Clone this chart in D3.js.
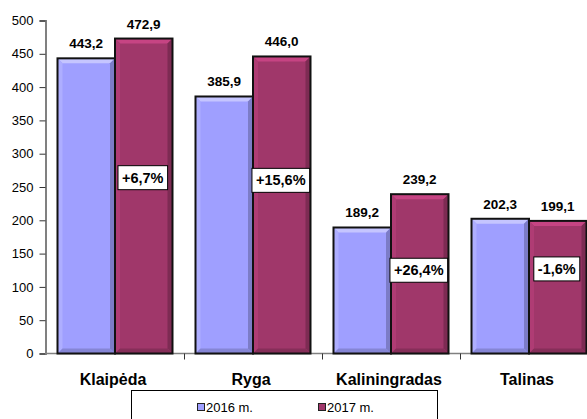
<!DOCTYPE html>
<html>
<head>
<meta charset="utf-8">
<script src="https://cdn.jsdelivr.net/npm/d3@7"></script>
<style>
  body { margin: 0; background: #fff; }
  svg { display: block; font-family: Arial, "Liberation Sans", sans-serif; }
</style>
</head>
<body>
<div id="grafikas"></div>
<script>
// duomenys
const uostai = ["Klaipėda", "Ryga", "Kaliningradas", "Talinas"];
const metai = ["2016 m.", "2017 m."];
const reiksmes2016 = [443.2, 385.9, 189.2, 202.3];
const reiksmes2017 = [472.9, 446.0, 239.2, 199.1];
const pokyciai = ["+6,7%", "+15,6%", "+26,4%", "-1,6%"];
const pokyciuAukstis = [264, 260, 125, 127]; // kur stovi procentu dezutes (reiksmes vienetais)
const yTicks = [0, 50, 100, 150, 200, 250, 300, 350, 400, 450, 500];

const W = 587, H = 419;
const spalvos = ["#9f9fff", "#a0376a"];

const svg = d3.select("#grafikas").append("svg")
  .attr("width", W).attr("height", H);

const x0 = d3.scaleBand().domain(uostai).range([46, 598]).padding(0);
const x1 = d3.scaleBand().domain(metai).range([11.5, x0.bandwidth() - 11.5]).padding(0);
const y = d3.scaleLinear().domain([0, 500]).range([353.5, 20.5]);

const fmt = v => v.toFixed(1).replace(".", ",");

// ašys
const yAxis = svg.append("g")
  .attr("transform", "translate(45.5,0)")
  .call(d3.axisLeft(y).tickValues(yTicks).tickSize(6).tickPadding(6));
yAxis.select(".domain").attr("stroke", "#808080").attr("stroke-width", 2);
yAxis.selectAll(".tick line").attr("stroke", "#333");
yAxis.selectAll("text").style("font-size", "13px").attr("fill", "#000");

const xAxis = svg.append("g")
  .attr("transform", `translate(0,${y(0)})`);
xAxis.append("line")
  .attr("x1", 45).attr("x2", W).attr("stroke", "#808080").attr("stroke-width", 1.5);
xAxis.selectAll(".tk")
  .data(uostai.slice(1))
  .enter().append("line")
  .attr("x1", d => x0(d) + 0.5).attr("x2", d => x0(d) + 0.5)
  .attr("y1", 0).attr("y2", 6).attr("stroke", "#333");
xAxis.selectAll(".cat")
  .data(uostai)
  .enter().append("text")
  .attr("x", d => x0(d) + x0.bandwidth() / 2 - 2)
  .attr("y", 31)
  .attr("text-anchor", "middle")
  .style("font-size", "16px")
  .style("font-weight", "bold")
  .text(d => d);

// stulpeliai su reljefu
function stulpelis(g, x, yTop, w, h, spalva) {
  const b = 5;
  const c = d3.color(spalva);
  g.append("rect").attr("x", x).attr("y", yTop).attr("width", w).attr("height", h).attr("fill", spalva);
  const pts = (arr) => arr.map(p => p.join(",")).join(" ");
  // virsus
  g.append("polygon").attr("points", pts([[x, yTop], [x + w, yTop], [x + w - b, yTop + b], [x + b, yTop + b]]))
    .attr("fill", c.brighter(0.6));
  // kaire
  g.append("polygon").attr("points", pts([[x, yTop], [x + b, yTop + b], [x + b, yTop + h - b], [x, yTop + h]]))
    .attr("fill", c.brighter(0.25));
  // desine
  g.append("polygon").attr("points", pts([[x + w, yTop], [x + w - b, yTop + b], [x + w - b, yTop + h - b], [x + w, yTop + h]]))
    .attr("fill", c.darker(0.7));
  // apacia
  g.append("polygon").attr("points", pts([[x, yTop + h], [x + b, yTop + h - b], [x + w - b, yTop + h - b], [x + w, yTop + h]]))
    .attr("fill", c.darker(0.5));
  g.append("rect").attr("x", x).attr("y", yTop).attr("width", w).attr("height", h)
    .attr("fill", "none").attr("stroke", "#111").attr("stroke-width", 2);
}

const serijos = [reiksmes2016, reiksmes2017];
const grupes = svg.selectAll(".grupe")
  .data(uostai)
  .enter().append("g")
  .attr("transform", d => `translate(${x0(d)},0)`);

grupes.each(function (d, i) {
  const g = d3.select(this);
  metai.forEach((m, j) => {
    const v = serijos[j][i];
    stulpelis(g, x1(m), y(v), x1.bandwidth(), y(0) - y(v), spalvos[j]);
  });
  metai.forEach((m, j) => {
    const v = serijos[j][i];
    g.append("text")
      .attr("x", x1(m) + x1.bandwidth() / 2)
      .attr("y", y(v) - 10)
      .attr("text-anchor", "middle")
      .style("font-size", "13.5px")
      .style("font-weight", "bold")
      .text(fmt(v));
  });
  // pokycio dezute
  const cx = x1(metai[1]) + x1.bandwidth() / 2 - 1;
  const cy = y(pokyciuAukstis[i]);
  const t = g.append("text")
    .attr("x", cx).attr("y", cy + 5)
    .attr("text-anchor", "middle")
    .style("font-size", "14.5px")
    .style("font-weight", "bold")
    .text(pokyciai[i]);
  const bb = t.node().getBBox();
  g.insert("rect", "text:last-of-type")
    .attr("x", bb.x - 4).attr("y", cy - 12)
    .attr("width", bb.width + 8).attr("height", 24)
    .attr("fill", "#fff").attr("stroke", "#000").attr("stroke-width", 1);
  t.raise();
});

// legenda
const leg = svg.append("g");
leg.append("rect")
  .attr("x", 131.5).attr("y", 390.5).attr("width", 306).attr("height", 40)
  .attr("fill", "#fff").attr("stroke", "#000");
const legX = d3.scaleOrdinal().domain(metai).range([197, 318]);
metai.forEach((m, j) => {
  const lg = leg.append("g").attr("transform", `translate(${legX(m)},403)`);
  lg.append("rect").attr("x", 0.5).attr("y", 0.5).attr("width", 7).attr("height", 7)
    .attr("fill", spalvos[j]).attr("stroke", "#222");
  lg.append("text").attr("x", 9).attr("y", 8.5)
    .style("font-size", "13px").text(m);
});
</script>
</body>
</html>
